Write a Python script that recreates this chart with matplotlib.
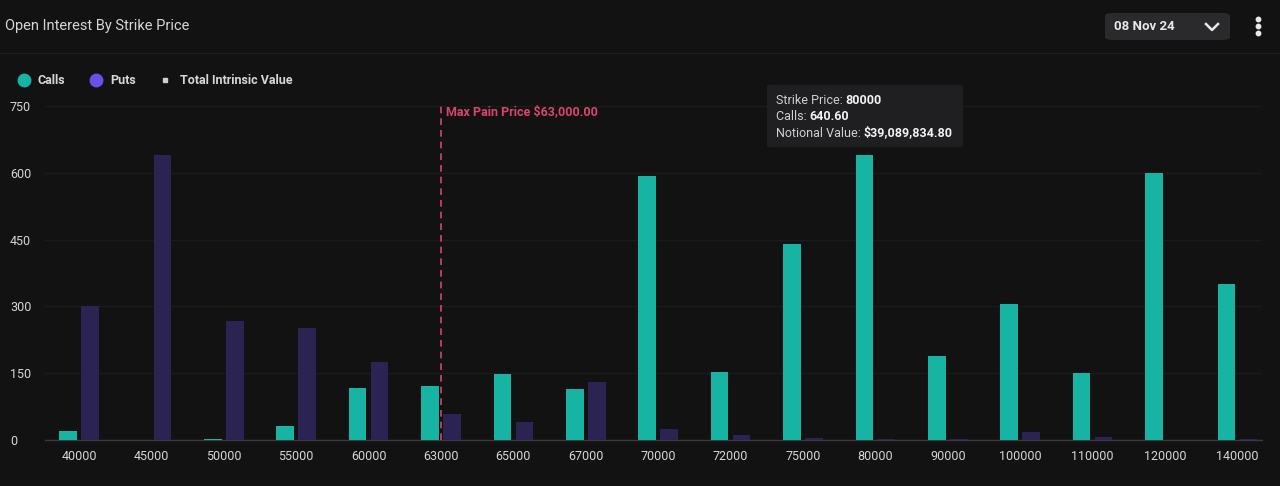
import matplotlib
matplotlib.use("Agg")
import matplotlib.pyplot as plt
from matplotlib.patches import FancyBboxPatch
from matplotlib.lines import Line2D
import numpy as np

plt.rcParams['font.family'] = ['Roboto', 'DejaVu Sans']

strikes = ["40000", "45000", "50000", "55000", "60000", "63000", "65000", "67000",
           "70000", "72000", "75000", "80000", "90000", "100000", "110000", "120000", "140000"]
calls = [21, 0, 3, 31, 117, 121, 148, 114, 593, 152, 440, 640.6, 188, 305, 150, 600, 350]
puts = [300, 640, 267, 251, 175, 58, 40, 130, 25, 11, 4, 3, 2, 18, 7, 1, 2]
y_ticks = [0, 150, 300, 450, 600, 750]
max_pain_strike = "63000"

BG = "#121212"
CALL_C = "#17b3a3"
PUT_C = "#2b2452"
PUT_LEG = "#6b4fe8"
GRID = "#1b1b1d"
TXT = "#d6d6d6"
PAIN = "#d8456c"

W, H = 1280, 486
fig = plt.figure(figsize=(W / 100, H / 100), dpi=100, facecolor=BG)

def fx(px):
    return px / W

def fy(py):
    return 1 - py / H

ax = fig.add_axes([fx(45), fy(440), fx(1262) - fx(45), fy(106) - fy(440)])
ax.set_facecolor(BG)
x = np.arange(len(strikes))
bw = 0.245
off = 0.152
ax.bar(x - off, calls, width=bw, color=CALL_C, zorder=3)
ax.bar(x + off, puts, width=bw, color=PUT_C, zorder=3)

ax.set_xlim(-0.47, len(strikes) - 1 + 0.34)
ax.set_ylim(0, 750)
ax.set_yticks(y_ticks)
ax.set_yticklabels([str(v) for v in y_ticks])
ax.set_xticks(x)
ax.set_xticklabels(strikes)
ax.tick_params(axis='both', length=0, colors=TXT, labelsize=9)
ax.tick_params(axis='x', pad=7)
ax.tick_params(axis='y', pad=0)
for lab in ax.get_yticklabels():
    lab.set_horizontalalignment('left')
    lab.set_x(-35 / (1262 - 45))
ax.grid(axis='y', color=GRID, linewidth=1, zorder=0)
for s in ['top', 'right', 'left']:
    ax.spines[s].set_visible(False)
ax.spines['bottom'].set_color('#3a3a3c')
ax.spines['bottom'].set_linewidth(1)

mp = strikes.index(max_pain_strike)
ax.axvline(mp, color=PAIN, linestyle=(0, (4, 3)), linewidth=1.2, zorder=4)
ax.text(mp + 0.07, 738, "Max Pain Price $63,000.00", color=PAIN, fontsize=9,
        fontweight='bold', va='center', ha='left', zorder=5)

# Title and header
fig.text(fx(5), fy(26), "Open Interest By Strike Price", color=TXT, fontsize=10.5,
         va='center', ha='left')
fig.add_artist(Line2D([0, 1], [fy(53), fy(53)], color="#1e1e20", linewidth=1))

# Date dropdown
btn = FancyBboxPatch((fx(1105), fy(40)), fx(125), fy(13) - fy(40),
                     boxstyle="round,pad=0,rounding_size=0.006", transform=fig.transFigure,
                     facecolor="#2a2a2c", edgecolor="none")
fig.add_artist(btn)
fig.text(fx(1114), fy(27), "08 Nov 24", color="#e8e8e8", fontsize=9.5, fontweight='bold',
         va='center', ha='left')
fig.add_artist(Line2D([fx(1206), fx(1212), fx(1218)], [fy(24), fy(30), fy(24)],
                      color="#e8e8e8", linewidth=1.8))
for py in (19, 26, 33):
    fig.add_artist(Line2D([fx(1258)], [fy(py)], marker='o', markersize=3.2,
                          color="#e8e8e8", linestyle='none'))

# Legend
LY = 79.5
fig.add_artist(Line2D([fx(24)], [fy(LY)], marker='o', markersize=9, color=CALL_C, linestyle='none'))
fig.text(fx(38), fy(LY + 1), "Calls", color=TXT, fontsize=9, fontweight='bold', va='center')
fig.add_artist(Line2D([fx(96)], [fy(LY)], marker='o', markersize=9, color=PUT_LEG, linestyle='none'))
fig.text(fx(110), fy(LY + 1), "Puts", color=TXT, fontsize=9, fontweight='bold', va='center')
fig.add_artist(Line2D([fx(165)], [fy(LY)], marker='s', markersize=3, color="#cfcfcf", linestyle='none'))
fig.text(fx(180), fy(LY + 1), "Total Intrinsic Value", color=TXT, fontsize=9, fontweight='bold', va='center')

# Tooltip
tip = FancyBboxPatch((fx(767), fy(147)), fx(196), fy(85) - fy(147),
                     boxstyle="round,pad=0,rounding_size=0.003", transform=fig.transFigure,
                     facecolor="#1f1f21", edgecolor="none", zorder=10)
fig.add_artist(tip)
lines = [("Strike Price: ", "80000"), ("Calls: ", "640.60"), ("Notional Value: ", "$39,089,834.80")]
r = fig.canvas.get_renderer()
for i, (a, b) in enumerate(lines):
    t = fig.text(fx(776), fy(101 + 16 * i), a, color="#d0d0d0", fontsize=9, va='center', zorder=11)
    bb = t.get_window_extent(renderer=r)
    fig.text(bb.x1 / W, fy(101 + 16 * i), b, color="#f2f2f2", fontsize=9,
             fontweight='bold', va='center', zorder=11)

fig.savefig("out.png", dpi=100, facecolor=BG)
